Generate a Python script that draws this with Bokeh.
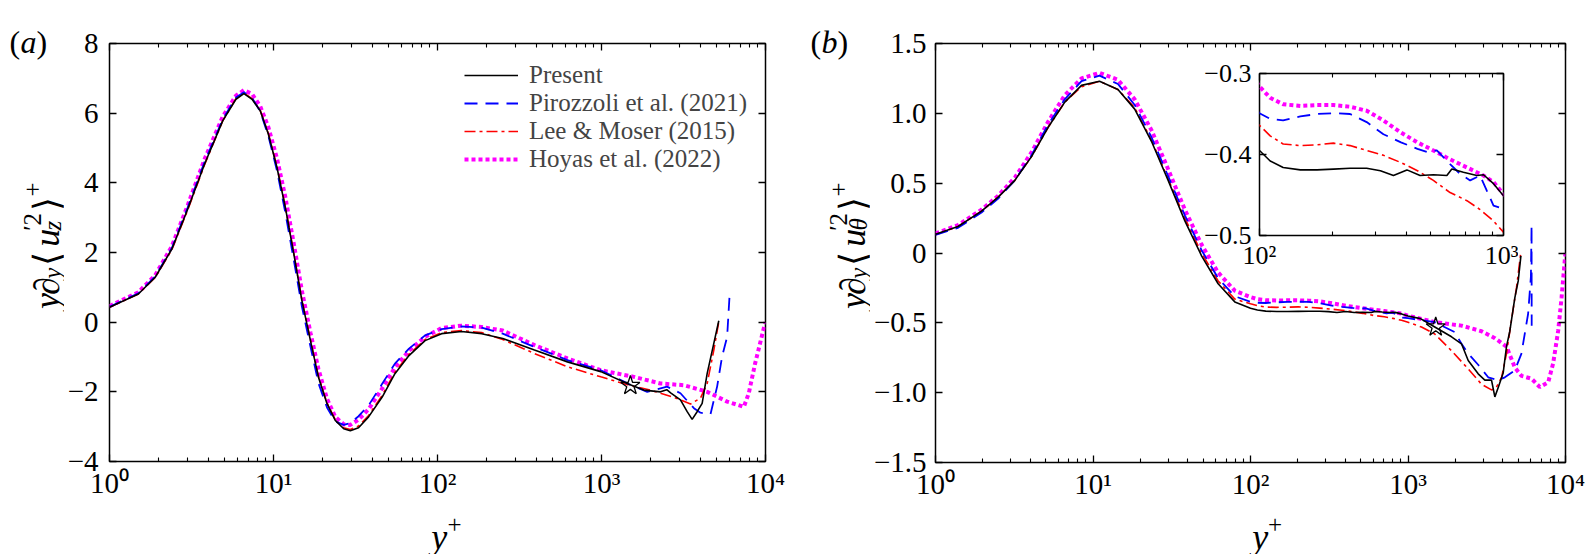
from math import pi

from bokeh.core.properties import value
from bokeh.embed import file_html
from bokeh.layouts import column, row
from bokeh.models import (ColumnDataSource, CustomJSTickFormatter, FixedTicker, Legend,
                          LegendItem, LinearAxis, LogAxis, Range1d)
from bokeh.plotting import figure
from bokeh.resources import INLINE

SERIF = "Liberation Serif"
PAGE_W, PAGE_H = 1587, 554

# ---------------- panel (a): y d<u_z'^2>/dy ----------------
ya_present = [1, 1.5, 1.9, 2.4, 3.0, 3.8, 4.9, 5.9, 6.6, 7.4, 8.3, 9.3, 10.5, 11.8, 13.3, 14.9,
              16.8, 18.8, 21.2, 23.8, 26.8, 29.4, 33, 38, 46, 55, 67, 84, 106, 140, 186, 250,
              390, 620, 990, 1470, 1810, 2290, 2500, 2640, 3030, 3330, 3570, 3830, 4110, 4410,
              4840, 5190]
va_present = [0.43, 0.81, 1.29, 2.10, 3.25, 4.54, 5.78, 6.40, 6.56, 6.40, 6.07, 5.40, 4.44, 3.30,
              1.96, 0.62, -0.53, -1.58, -2.34, -2.82, -3.06, -3.12, -3.03, -2.72, -2.15, -1.48,
              -0.96, -0.53, -0.33, -0.27, -0.33, -0.47, -0.80, -1.14, -1.42, -1.78, -1.95, -2.00,
              -1.94, -2.03, -2.23, -2.57, -2.79, -2.57, -2.33, -1.47, -0.61, 0.04]

ya_piro = [1, 1.5, 1.9, 2.4, 3.0, 3.8, 4.9, 5.9, 6.6, 7.4, 8.3, 9.3, 10.5, 11.8, 13.3, 14.9,
           16.8, 18.8, 21.2, 23.8, 26.8, 29.4, 33, 38, 46, 55, 67, 84, 106, 140, 186, 250,
           390, 620, 990, 1470, 1900, 2510, 3030, 3660, 4015, 4620, 5070, 5435, 5835, 6030]
va_piro = [0.44, 0.83, 1.31, 2.13, 3.30, 4.60, 5.82, 6.45, 6.60, 6.44, 6.05, 5.35, 4.35, 3.15,
           1.78, 0.45, -0.70, -1.75, -2.45, -2.85, -2.95, -2.90, -2.70, -2.39, -1.77, -1.19,
           -0.76, -0.38, -0.20, -0.12, -0.16, -0.33, -0.71, -1.09, -1.38, -1.78, -2.00, -1.85,
           -2.04, -2.47, -2.60, -2.64, -1.85, -0.99, -0.42, 0.72]

ya_lee = [1, 1.5, 1.9, 2.4, 3.0, 3.8, 4.9, 5.9, 6.6, 7.4, 8.3, 9.3, 10.5, 11.8, 13.3, 14.9,
          16.8, 18.8, 21.2, 23.8, 26.8, 29.4, 33, 38, 46, 55, 67, 84, 106, 140, 186, 250,
          390, 620, 990, 1470, 1990, 2885, 3490, 4015, 4410, 4840, 5190]
va_lee = [0.43, 0.81, 1.28, 2.08, 3.22, 4.52, 5.78, 6.42, 6.58, 6.42, 6.08, 5.42, 4.46, 3.32,
          1.98, 0.64, -0.50, -1.56, -2.32, -2.80, -3.03, -3.08, -2.98, -2.68, -2.10, -1.44,
          -0.92, -0.50, -0.30, -0.24, -0.30, -0.50, -0.90, -1.28, -1.57, -1.81, -1.95, -2.19,
          -2.35, -2.18, -1.76, -0.80, 0.01]

ya_hoyas = [1, 1.5, 1.9, 2.4, 3.0, 3.8, 4.9, 5.9, 6.6, 7.4, 8.3, 9.3, 10.5, 11.8, 13.3, 14.9,
            16.8, 18.8, 21.2, 23.8, 26.8, 29.4, 33, 38, 46, 55, 67, 84, 106, 140, 186, 250,
            390, 620, 990, 1574, 2290, 3180, 4410, 5835, 7380, 7910, 8650, 9860, 10000]
va_hoyas = [0.46, 0.86, 1.35, 2.18, 3.36, 4.68, 5.90, 6.50, 6.66, 6.55, 6.20, 5.60, 4.70, 3.60,
            2.25, 0.90, -0.30, -1.35, -2.20, -2.72, -2.93, -2.95, -2.80, -2.50, -1.90, -1.30,
            -0.82, -0.42, -0.17, -0.10, -0.14, -0.24, -0.66, -1.04, -1.38, -1.57, -1.76, -1.81,
            -2.00, -2.28, -2.43, -2.04, -1.18, -0.09, 0.0]

# ---------------- panel (b): y d<u_theta'^2>/dy ----------------
yb_present = [1, 1.39, 1.96, 2.5, 3.19, 4.07, 5.19, 6.62, 8.45, 11.0, 14.4, 18.4, 23.5, 30, 38.3,
              48.9, 62.3, 79.5, 100, 110.6, 125, 147, 172, 201, 235, 275, 313, 354, 402, 455,
              516, 586, 614, 685, 778, 828, 910, 1000, 1200, 1479, 1890, 2186, 2411, 2790, 3075,
              3390, 3560, 3750, 4020, 4220, 4430, 4770, 5010, 5210]
vb_present = [0.134, 0.19, 0.30, 0.40, 0.52, 0.69, 0.90, 1.08, 1.20, 1.23, 1.17, 1.03, 0.80, 0.52,
              0.23, -0.02, -0.22, -0.35, -0.395, -0.408, -0.416, -0.419, -0.419, -0.418, -0.417,
              -0.417, -0.420, -0.426, -0.419, -0.426, -0.425, -0.426, -0.418, -0.422, -0.426,
              -0.425, -0.436, -0.451, -0.47, -0.53, -0.60, -0.65, -0.77, -0.865, -0.91, -0.91,
              -1.03, -0.96, -0.86, -0.67, -0.56, -0.32, -0.20, -0.02]

yb_piro = [1, 1.39, 1.96, 2.5, 3.19, 4.07, 5.19, 6.62, 8.45, 11.0, 14.4, 18.4, 23.5, 30, 38.3,
           48.9, 62.3, 79.5, 100, 110.6, 125, 147, 172, 201, 235, 275, 322, 380, 444, 486, 533,
           604, 664, 730, 802, 855, 910, 1000, 1479, 1983, 2186, 2411, 2790, 3230, 3740, 4120,
           4770, 5250, 5790, 6030, 6090, 6100]
vb_piro = [0.13, 0.18, 0.29, 0.39, 0.52, 0.70, 0.92, 1.10, 1.23, 1.27, 1.21, 1.06, 0.83, 0.55,
           0.27, 0.02, -0.18, -0.31, -0.349, -0.356, -0.358, -0.353, -0.350, -0.349, -0.350,
           -0.360, -0.375, -0.385, -0.393, -0.397, -0.395, -0.412, -0.424, -0.432, -0.426,
           -0.445, -0.463, -0.467, -0.495, -0.567, -0.65, -0.72, -0.80, -0.89, -0.91, -0.89,
           -0.84, -0.72, -0.435, -0.17, 0.20, -0.52]

yb_lee = [1, 1.39, 1.96, 2.5, 3.19, 4.07, 5.19, 6.62, 8.45, 11.0, 14.4, 18.4, 23.5, 30, 38.3,
          48.9, 62.3, 79.5, 100, 110.6, 125, 147, 172, 201, 235, 275, 322, 380, 444, 516, 604,
          708, 802, 910, 1000, 1218, 1479, 1890, 2411, 2930, 3390, 3610, 3930, 4220, 4540, 4890,
          5200]
vb_lee = [0.13, 0.19, 0.30, 0.40, 0.52, 0.69, 0.90, 1.08, 1.19, 1.23, 1.17, 1.04, 0.81, 0.53,
          0.25, 0.00, -0.20, -0.33, -0.364, -0.377, -0.387, -0.389, -0.388, -0.386, -0.389,
          -0.395, -0.401, -0.410, -0.420, -0.432, -0.447, -0.457, -0.468, -0.482, -0.496, -0.53,
          -0.58, -0.70, -0.83, -0.94, -0.98, -0.97, -0.89, -0.72, -0.48, -0.245, 0.0]

yb_hoyas = [1, 1.39, 1.96, 2.5, 3.19, 4.07, 5.19, 6.62, 8.45, 11.0, 14.4, 18.4, 23.5, 30, 38.3,
            48.9, 62.3, 79.5, 100, 110.6, 125, 147, 172, 201, 235, 275, 322, 380, 444, 516, 604,
            708, 828, 910, 1000, 1479, 2186, 2930, 3560, 4220, 4770, 5260, 6090, 6870, 7770,
            8350, 8990, 9440, 9900, 10000]
vb_hoyas = [0.14, 0.20, 0.31, 0.41, 0.54, 0.72, 0.94, 1.13, 1.25, 1.29, 1.24, 1.10, 0.88, 0.60,
            0.31, 0.06, -0.14, -0.27, -0.316, -0.330, -0.338, -0.340, -0.339, -0.339, -0.341,
            -0.346, -0.358, -0.373, -0.385, -0.395, -0.406, -0.416, -0.426, -0.434, -0.449,
            -0.495, -0.52, -0.56, -0.61, -0.67, -0.82, -0.88, -0.90, -0.96, -0.925, -0.79,
            -0.555, -0.32, -0.05, 0.0]

# star markers
star_x = [1500]
star_a = [-1.82]
star_b = [-0.53]

# ticks
x_ticks = [1, 10, 100, 1000, 10000]
x_tick_labels = ["10⁰", "10¹", "10²", "10³", "10⁴"]
x_minor = [k * 10 ** e for e in range(4) for k in range(2, 10)]
inset_x_ticks = [100, 1000]
inset_x_tick_labels = ["10²", "10³"]
inset_x_minor = [k * 100 for k in range(2, 10)]
ya_ticks = [-4, -2, 0, 2, 4, 6, 8]
ya_tick_labels = ["−4", "−2", "0", "2", "4", "6", "8"]
yb_ticks = [-1.5, -1.0, -0.5, 0, 0.5, 1.0, 1.5]
yb_tick_labels = ["−1.5", "−1.0", "−0.5", "0", "0.5", "1.0", "1.5"]
inset_y_ticks = [-0.5, -0.4, -0.3]
inset_y_tick_labels = ["−0.5", "−0.4", "−0.3"]

names = ["Present", "Pirozzoli et al. (2021)", "Lee & Moser (2015)", "Hoyas et al. (2022)"]

LINE = {
    "present": dict(line_color="black", line_width=1.6),
    "piro": dict(line_color="#0000ff", line_width=1.8, line_dash="13 8"),
    "lee": dict(line_color="#ff0000", line_width=1.6, line_dash="11 4 3 4"),
    "hoyas": dict(line_color="#ff00ff", line_width=4, line_dash="4 3"),
}

PICK = "const i = tv.indexOf(tick); return i >= 0 ? tl[i] : ''"


def make_fig(xr, yr, fw, fh, left, right, top, bottom, **kw):
    p = figure(x_axis_type="log", x_range=Range1d(*xr), y_range=Range1d(*yr),
               frame_width=fw, frame_height=fh, min_border_left=left, min_border_right=right,
               min_border_top=top, min_border_bottom=bottom, title=None,
               output_backend="svg", toolbar_location=None, tools="", **kw)
    p.grid.visible = False
    p.outline_line_color = "black"
    p.outline_line_width = 1.5
    return p


def frame_axes(p, xt, xl, xm, yt, yl, font_px, ystand=9, xstand=10):
    blank = CustomJSTickFormatter(code="return ''")
    p.xaxis.ticker = FixedTicker(ticks=xt, minor_ticks=xm)
    p.xaxis.formatter = CustomJSTickFormatter(args=dict(tv=xt, tl=xl), code=PICK)
    p.yaxis.ticker = FixedTicker(ticks=yt)
    p.yaxis.formatter = CustomJSTickFormatter(args=dict(tv=yt, tl=yl), code=PICK)
    p.add_layout(LogAxis(ticker=FixedTicker(ticks=xt, minor_ticks=xm), formatter=blank,
                         major_label_text_font_size="2px", major_label_standoff=0), "above")
    p.add_layout(LinearAxis(ticker=FixedTicker(ticks=yt), formatter=blank,
                            major_label_text_font_size="2px", major_label_standoff=0), "right")
    for ax in p.axis:
        ax.axis_line_color = None
        ax.major_tick_in = 7
        ax.major_tick_out = 0
        ax.minor_tick_in = 4
        ax.minor_tick_out = 0
        ax.major_tick_line_color = "black"
        ax.minor_tick_line_color = "black"
        ax.major_tick_line_width = 1.3
        ax.minor_tick_line_width = 1.1
        ax.major_label_text_font = SERIF
        ax.major_label_text_color = "black"
    for ax in p.below + p.left:
        ax.major_label_text_font_size = font_px
    p.xaxis[0].major_label_standoff = xstand
    p.yaxis[0].major_label_standoff = ystand


def draw(p, sets):
    out = {}
    for key in ["hoyas", "lee", "piro", "present"]:
        xs, ys = sets[key]
        out[key] = p.line(xs, ys, **LINE[key])
    return out


# ---------------- panel (a) ----------------
pa = make_fig((1, 1e4), (-4, 8), 656, 418, 45, 25, 43, 46)
frame_axes(pa, x_ticks, x_tick_labels, x_minor, ya_ticks, ya_tick_labels, "29px", ystand=11)
ra = draw(pa, {"present": (ya_present, va_present), "piro": (ya_piro, va_piro),
               "lee": (ya_lee, va_lee), "hoyas": (ya_hoyas, va_hoyas)})
pa.scatter(star_x, star_a, marker="star", size=20, fill_color=None, line_color="black",
           line_width=1.3)
legend = Legend(items=[LegendItem(label=n, renderers=[ra[k]])
                       for n, k in zip(names, ["present", "piro", "lee", "hoyas"])],
                location="top_right", border_line_color=None, background_fill_alpha=0,
                label_text_font=SERIF, label_text_font_size="25px", glyph_width=54,
                glyph_height=20, label_height=28, label_standoff=11, spacing=0, padding=0,
                margin=18)
pa.add_layout(legend)

# ---------------- panel (b) ----------------
sets_b = {"present": (yb_present, vb_present), "piro": (yb_piro, vb_piro),
          "lee": (yb_lee, vb_lee), "hoyas": (yb_hoyas, vb_hoyas)}
pb = make_fig((1, 1e4), (-1.5, 1.5), 630, 419, 64, 23, 43, 45)
frame_axes(pb, x_ticks, x_tick_labels, x_minor, yb_ticks, yb_tick_labels, "29px")
draw(pb, sets_b)
pb.scatter(star_x, star_b, marker="star", size=20, fill_color=None, line_color="black",
           line_width=1.3)

# ---------------- inset of (b) ----------------
pi_ = make_fig((100, 1000), (-0.5, -0.3), 244, 162, 70, 15, 15, 52,
               styles={"position": "absolute", "left": "1189px", "top": "58px"})
pi_.border_fill_color = None
pi_.background_fill_color = "white"
frame_axes(pi_, inset_x_ticks, inset_x_tick_labels, inset_x_minor, inset_y_ticks,
           inset_y_tick_labels, "26px", ystand=8, xstand=8)
draw(pi_, sets_b)


# ---------------- axis labels with sub/superscripts (page pixel positions) ----------------
def ylab(sub):
    return [("y", 36, True, 0, 0), ("∂", 36, False, 16, 0), ("y", 25, True, 34.5, -6),
            ("⟨", 36, False, 49, 0), ("u", 36, True, 71, 0), ("′2", 25, False, 89, 14),
            (sub, 25, True, 89.5, -6), ("⟩", 36, False, 112, 0), ("+", 25, False, 128, 14)]


XLAB = [("y", 36, True, 0, 0), ("+", 25, False, 18, 12)]


def paren(letter):
    return [("(", 32, False, 0, 0), (letter, 32, True, 11, 0), (")", 32, False, 27, 0)]


def text_fig(x0, x1, y0, y1, groups):
    # a bare strip of the page holding text; its ranges are page pixels
    cols = dict(x=[], y=[], text=[], size=[], style=[], angle=[])
    for pieces, px0, py0, vertical in groups:
        for text, size, italic, s, d in pieces:
            if vertical:
                x, y, ang = px0 - d, py0 - s, pi / 2
            else:
                x, y, ang = px0 + s, py0 - d, 0.0
            cols["x"].append(x)
            cols["y"].append(PAGE_H - y)
            cols["text"].append(text)
            cols["size"].append(f"{size}px")
            cols["style"].append("italic" if italic else "normal")
            cols["angle"].append(ang)
    f = figure(width=x1 - x0, height=y1 - y0, x_range=Range1d(x0, x1),
               y_range=Range1d(PAGE_H - y1, PAGE_H - y0), min_border=0,
               x_axis_location=None, y_axis_location=None, title=None,
               output_backend="svg", toolbar_location=None, tools="")
    f.grid.visible = False
    f.outline_line_color = None
    f.background_fill_color = None
    f.border_fill_color = None
    f.text(x="x", y="y", text="text", angle="angle", text_font_size="size",
           text_font_style="style", text_font=value(SERIF), text_color="black",
           text_align="left", text_baseline="alphabetic", source=ColumnDataSource(cols))
    return f


la = text_fig(0, 64, 0, PAGE_H, [(ylab("z"), 46, 334, True), (paren("a"), 9, 30, False)])
xa = text_fig(64, 790, 507, PAGE_H, [(XLAB, 420, 536, False)])
lb = text_fig(790, 870, 0, PAGE_H, [(ylab("θ"), 852, 334, True), (paren("b"), 810, 30, False)])
xb = text_fig(870, PAGE_W, 507, PAGE_H, [(XLAB, 1231, 536, False)])

layout = row(la, column(pa, xa), lb, column(pb, xb), pi_, styles={"position": "relative"})
open("out.html", "w", encoding="utf-8").write(file_html(layout, INLINE))
